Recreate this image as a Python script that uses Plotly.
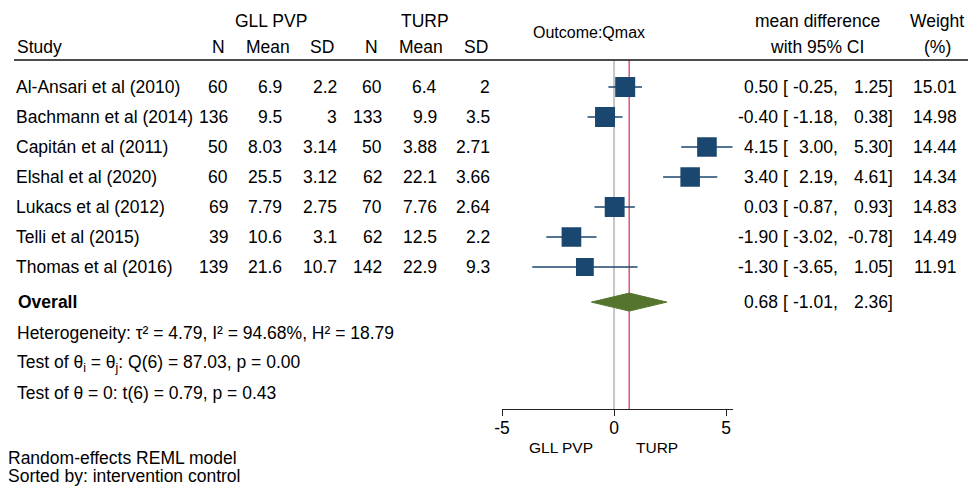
import plotly.graph_objects as go
import math

W, H = 968, 486

# ---------------- data ----------------
studies = ["Al-Ansari et al (2010)", "Bachmann et al (2014)", "Capitán et al (2011)",
           "Elshal et al (2020)", "Lukacs et al (2012)", "Telli et al (2015)",
           "Thomas et al (2016)"]
n_gll = [60, 136, 50, 60, 69, 39, 139]
mean_gll = [6.9, 9.5, 8.03, 25.5, 7.79, 10.6, 21.6]
sd_gll = [2.2, 3, 3.14, 3.12, 2.75, 3.1, 10.7]
n_turp = [60, 133, 50, 62, 70, 62, 142]
mean_turp = [6.4, 9.9, 3.88, 22.1, 7.76, 12.5, 22.9]
sd_turp = [2, 3.5, 2.71, 3.66, 2.64, 2.2, 9.3]
md = [0.50, -0.40, 4.15, 3.40, 0.03, -1.90, -1.30]
ci_lo = [-0.25, -1.18, 3.00, 2.19, -0.87, -3.02, -3.65]
ci_hi = [1.25, 0.38, 5.30, 4.61, 0.93, -0.78, 1.05]
weights = [15.01, 14.98, 14.44, 14.34, 14.83, 14.49, 11.91]
overall = [0.68, -1.01, 2.36]
x_ticks = [-5, 0, 5]
het_lines = ["Heterogeneity: τ² = 4.79, I² = 94.68%, H² = 18.79",
             "Test of θ<sub>i</sub> = θ<sub>j</sub>: Q(6) = 87.03, p = 0.00",
             "Test of θ = 0: t(6) = 0.79, p = 0.43"]
notes = ["Random-effects REML model", "Sorted by: intervention control"]

# ---------------- style ----------------
FONT = "Liberation Sans, Arial, Helvetica, sans-serif"
FS = 17.5
NAVY = "#1a476f"
GREEN = "#55752f"
PINK = "#d8607f"
GRAY = "#b9b9b9"

rows = list(range(len(studies)))
overall_row = 7.17

def px(x):
    return x / W

def py(y):
    return 1 - y / H

fig = go.Figure()

# CI lines
xs, ys = [], []
for i, (l, h) in enumerate(zip(ci_lo, ci_hi)):
    xs += [l, h, None]
    ys += [i, i, None]
fig.add_trace(go.Scatter(x=xs, y=ys, mode="lines",
                         line=dict(color=NAVY, width=1.6),
                         hoverinfo="skip", showlegend=False))
# boxes
wmax = max(weights)
fig.add_trace(go.Scatter(x=md, y=rows, mode="markers",
                         marker=dict(symbol="square", color=NAVY, opacity=1,
                                     size=[20 * math.sqrt(w / wmax) for w in weights],
                                     line=dict(width=0)),
                         showlegend=False))
# diamond
est, lo, hi = overall
dh = 0.3
fig.add_trace(go.Scatter(x=[lo, est, hi, est, lo],
                         y=[overall_row, overall_row - dh, overall_row, overall_row + dh, overall_row],
                         mode="lines", fill="toself", fillcolor=GREEN,
                         line=dict(color=GREEN, width=1), showlegend=False))

# vertical reference lines (from header rule to axis)
top_frac = (409 - 60) / 409
fig.add_shape(type="line", xref="x", yref="y domain", x0=0, x1=0, y0=0, y1=top_frac,
              line=dict(color=GRAY, width=1.6), layer="below")
fig.add_shape(type="line", xref="x", yref="y domain", x0=est, x1=est, y0=0, y1=top_frac,
              line=dict(color=PINK, width=1.6), layer="below")
# header rule
fig.add_shape(type="line", xref="paper", yref="paper", x0=px(14), x1=1, y0=py(60), y1=py(60),
              line=dict(color="#111111", width=1.6))

ann = []

def T(text, x, y, anchor="left", size=FS, yref="paper", bold=False):
    if bold:
        text = "<b>" + text + "</b>"
    ann.append(dict(text=text, x=px(x), y=(py(y) if yref == "paper" else y),
                    xref="paper", yref=yref, xanchor=anchor, yanchor="middle",
                    showarrow=False, borderpad=0,
                    font=dict(family=FONT, size=size, color="#000000")))

# headers
T("GLL PVP", 271, 21, "center")
T("TURP", 425, 21, "center")
T("Study", 16, 47)
for lab, cx in [("N", 218), ("Mean", 268), ("SD", 322), ("N", 371), ("Mean", 421), ("SD", 476)]:
    T(lab, cx, 47, "center")
T("Outcome:Qmax", 589, 33, "center", size=16)
T("mean difference", 817, 21, "center")
T("with 95% CI", 817, 47, "center")
T("Weight", 937, 21, "center")
T("(%)", 937, 47, "center")

def g(v):
    return "{:g}".format(v)

for i in rows:
    T(studies[i], 15, i, "left", yref="y")
    T(g(n_gll[i]), 229, i, "right", yref="y")
    T(g(mean_gll[i]), 283, i, "right", yref="y")
    T(g(sd_gll[i]), 338, i, "right", yref="y")
    T(g(n_turp[i]), 383, i, "right", yref="y")
    T(g(mean_turp[i]), 438, i, "right", yref="y")
    T(g(sd_turp[i]), 491, i, "right", yref="y")
    T("%.2f" % md[i], 779, i, "right", yref="y")
    T("[", 782, i, "left", yref="y")
    T("%.2f," % ci_lo[i], 839, i, "right", yref="y")
    T("%.2f]" % ci_hi[i], 894, i, "right", yref="y")
    T("%.2f" % weights[i], 958, i, "right", yref="y")

T("Overall", 17, overall_row, "left", yref="y", bold=True)
T("%.2f" % est, 779, overall_row, "right", yref="y")
T("[", 782, overall_row, "left", yref="y")
T("%.2f," % lo, 839, overall_row, "right", yref="y")
T("%.2f]" % hi, 894, overall_row, "right", yref="y")

for k, line in enumerate(het_lines):
    T(line, 16, 333 + 30 * k, "left")

T(notes[0], 7, 458, "left")
T(notes[1], 7, 476, "left")

T("GLL PVP", 561, 447, "center", size=15.5)
T("TURP", 657, 447, "center", size=15.5)

y_top = -87 / 30
y_bot = y_top + 409 / 30

fig.update_layout(
    width=W, height=H,
    autosize=False,
    margin=dict(l=0, r=0, t=0, b=0, pad=0, autoexpand=False),
    paper_bgcolor="white", plot_bgcolor="white",
    annotations=ann,
    showlegend=False,
    xaxis=dict(domain=[px(502), px(502 + 10.3 * 22.4)], range=[-5, 5.30],
               tickmode="array", tickvals=x_ticks, ticktext=[str(t) for t in x_ticks],
               ticks="outside", ticklen=6, tickwidth=1.2, tickcolor="#222222",
               showline=True, linecolor="#222222", linewidth=1.2,
               showgrid=False, zeroline=False, automargin=False,
               ticklabelstandoff=-3,
               tickfont=dict(family=FONT, size=FS, color="#000000"),
               fixedrange=True),
    yaxis=dict(domain=[(H - 409) / H, 1], range=[y_bot, y_top],
               visible=False, showgrid=False, zeroline=False, automargin=False,
               fixedrange=True),
)

fig.write_html("out.html")
